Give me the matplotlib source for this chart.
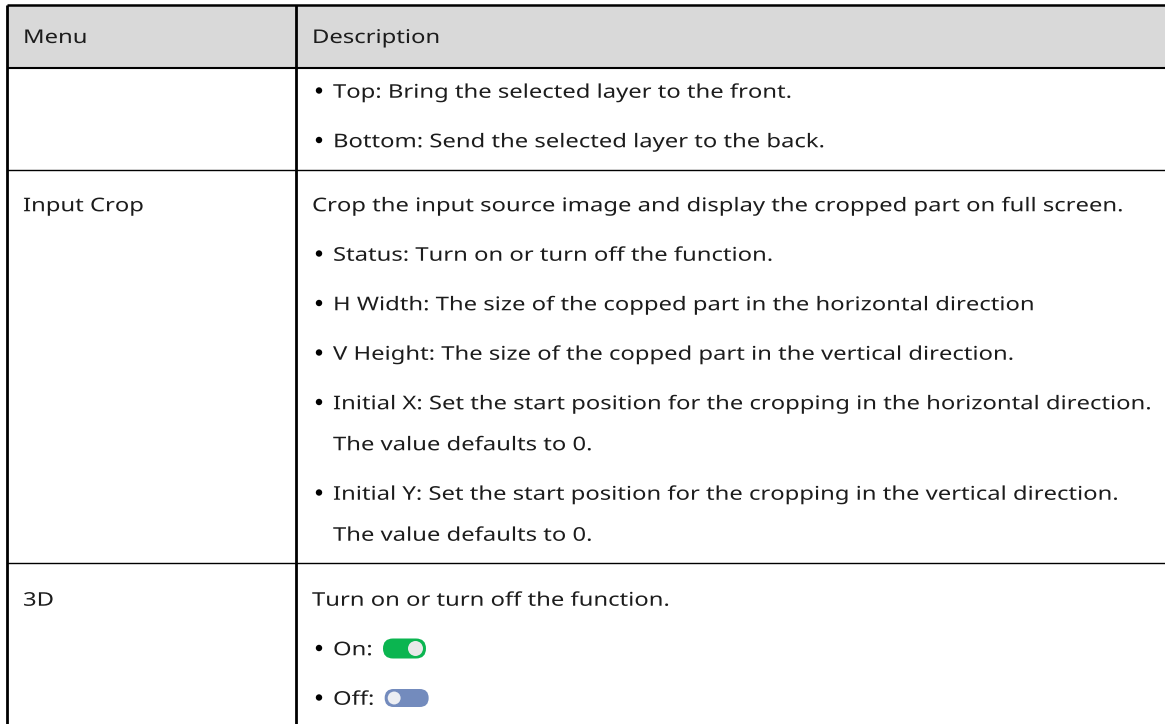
import matplotlib
matplotlib.use("Agg")
import matplotlib.pyplot as plt
from matplotlib.patches import Rectangle, FancyBboxPatch, Circle, PathPatch
from matplotlib.font_manager import FontProperties
from matplotlib.textpath import TextPath
from matplotlib.transforms import Affine2D

# Table content
header = ["Menu", "Description"]
menus = ["", "Input Crop", "3D"]
# each paragraph: (bullet?, [wrapped lines], toggle)
descriptions = [
    [(True, ["Top: Bring the selected layer to the front."], None),
     (True, ["Bottom: Send the selected layer to the back."], None)],
    [(False, ["Crop the input source image and display the cropped part on full screen."], None),
     (True, ["Status: Turn on or turn off the function."], None),
     (True, ["H Width: The size of the copped part in the horizontal direction"], None),
     (True, ["V Height: The size of the copped part in the vertical direction."], None),
     (True, ["Initial X: Set the start position for the cropping in the horizontal direction.",
             "The value defaults to 0."], None),
     (True, ["Initial Y: Set the start position for the cropping in the vertical direction.",
             "The value defaults to 0."], None)],
    [(False, ["Turn on or turn off the function."], None),
     (True, ["On:"], "on"),
     (True, ["Off:"], "off")],
]

# layout (pixels)
W, H = 1165, 724
x_left, x_div = 7, 296
y_top, y_head = 4.5, 68
row_top_pad = [23, 35, 36]
para_gap, wrap_gap, bottom_pad = 49.5, 41, 29
EM = 18.9          # font em size in px
CAP = 0.714 * EM   # cap height of Noto Sans
TXT_COLOR = "#1c1c1c"
prop = FontProperties(family="Noto Sans")

# horizontal stretch so the long lines span like the reference
w_crop = TextPath((0, 0), descriptions[1][0][1][0], size=EM, prop=prop).get_extents().width
w_initx = TextPath((0, 0), descriptions[1][4][1][0], size=EM, prop=prop).get_extents().width
SX = min(840 / w_crop, 816 / w_initx)

fig = plt.figure(figsize=(W / 100, H / 100), dpi=100)
ax = fig.add_axes([0, 0, 1, 1])
ax.set_xlim(0, W)
ax.set_ylim(H, 0)
ax.axis("off")


def put_text(x, yc, s):
    tp = TextPath((0, 0), s, size=EM, prop=prop)
    tr = Affine2D().scale(SX, -1).translate(x, yc + CAP / 2)
    path = tr.transform_path(tp)
    ax.add_patch(PathPatch(path, facecolor=TXT_COLOR, edgecolor="none", lw=0))
    return path.get_extents().x1


def draw_toggle(x0, yc, state):
    if state == "on":
        h, w = 20, 43
        ax.add_patch(FancyBboxPatch((x0, yc - h / 2), w, h,
                                    boxstyle=f"round,pad=0,rounding_size={h / 2}",
                                    facecolor="#0bb550", edgecolor="none"))
        ax.add_patch(Circle((x0 + w - h / 2 - 0.5, yc), h / 2 - 2.5,
                            facecolor="#e9e9e9", edgecolor="none"))
    else:
        h, w = 18, 44
        ax.add_patch(FancyBboxPatch((x0, yc - h / 2), w, h,
                                    boxstyle=f"round,pad=0,rounding_size={h / 2}",
                                    facecolor="#738bbd", edgecolor="none"))
        ax.add_patch(Circle((x0 + h / 2 + 0.5, yc), h / 2 - 1.5,
                            facecolor="#eceef3", edgecolor="#738bbd", lw=1.5))


# header
ax.add_patch(Rectangle((x_left, y_top), W - x_left, y_head - y_top,
                       facecolor="#d9d9d9", edgecolor="none"))
hy = (y_top + y_head) / 2
put_text(23, hy, header[0])
put_text(x_div + 16, hy, header[1])
ax.plot([x_left, W], [y_top, y_top], color="black", lw=1.8, solid_capstyle="butt")
ax.plot([x_left, W], [y_head, y_head], color="black", lw=1.5, solid_capstyle="butt")

y = y_head
seps = []
for menu, paras, pad in zip(menus, descriptions, row_top_pad):
    line_y = y + pad
    if menu:
        put_text(23, line_y, menu)
    first = True
    for bullet, lines, toggle in paras:
        if not first:
            line_y += para_gap
        first = False
        tx = x_div + 37 if bullet else x_div + 16
        if bullet:
            ax.add_patch(Circle((x_div + 23, line_y - 0.5), 3.2,
                                facecolor="black", edgecolor="none"))
        for i, ln in enumerate(lines):
            if i > 0:
                line_y += wrap_gap
            end = put_text(tx, line_y, ln)
        if toggle:
            draw_toggle(end + 12, line_y, toggle)
    y = line_y + bottom_pad
    seps.append(y)

# thin row separators (the last one falls off the image)
for s in seps[:-1]:
    ax.plot([x_left, W], [s, s], color="black", lw=1.0, solid_capstyle="butt")

# vertical borders
ax.plot([x_left, x_left], [y_top, H], color="black", lw=2.0, solid_capstyle="butt")
ax.plot([x_div, x_div], [y_top, H], color="black", lw=2.0, solid_capstyle="butt")

fig.savefig("out.png", dpi=100)
